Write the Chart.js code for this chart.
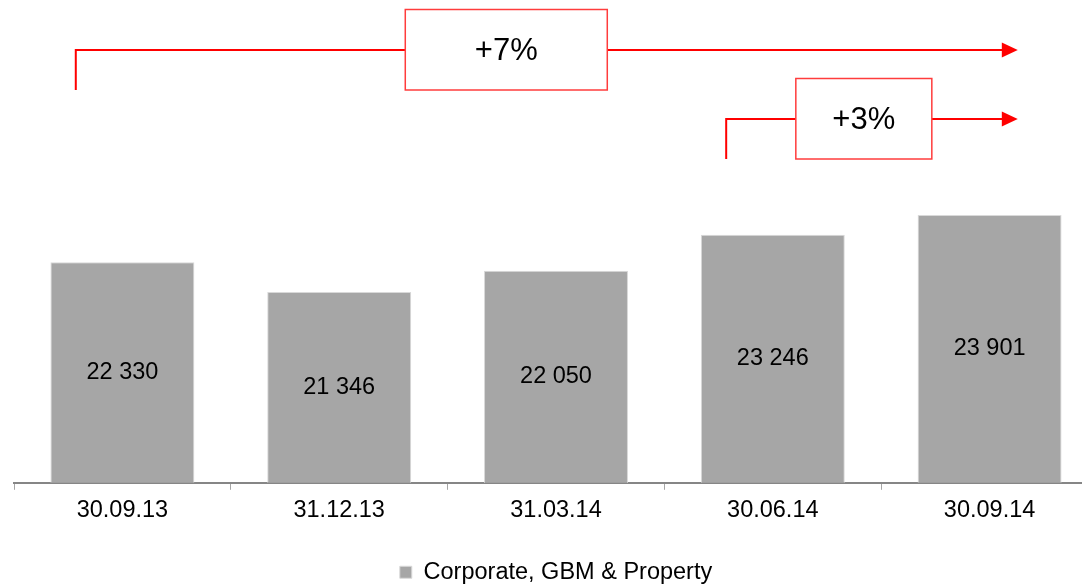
<!DOCTYPE html>
<html>
<head>
<meta charset="utf-8">
<script src="https://cdn.jsdelivr.net/npm/chart.js@4.4.1/dist/chart.umd.min.js"></script>
<style>
  html, body { margin: 0; padding: 0; background: #fff; overflow: hidden; }
  #wrap { width: 1120px; height: 594px; }
</style>
</head>
<body>
<div id="wrap"><canvas id="balances" width="1120" height="594"></canvas></div>
<script>
const periods = ['30.09.13', '31.12.13', '31.03.14', '30.06.14', '30.09.14'];
const balances = [22330, 21346, 22050, 23246, 23901];
const seriesName = 'Corporate, GBM & Property';

// growth brackets drawn above the bars (index of start and end period)
const growthFrom = [0, 3];
const growthTo = [4, 4];

// where each bracket row sits and how wide its box is
const bracketRows = [
  { lineY: 50, boxW: 202, boxAt: 0.457 },
  { lineY: 119, boxW: 136, boxAt: 0.472 }
];

const fontFamily = '"Liberation Sans", Arial, sans-serif';
Chart.defaults.font.family = fontFamily;

function spaced(n) {
  return String(n).replace(/\B(?=(\d{3})+(?!\d))/g, ' ');
}

// value written in the middle of every bar (bars start at the axis minimum)
const valueLabels = {
  id: 'valueLabels',
  afterDatasetsDraw(chart) {
    const ctx = chart.ctx;
    const ys = chart.scales.y;
    const floor = ys.getPixelForValue(ys.min);
    const meta = chart.getDatasetMeta(0);
    ctx.save();
    ctx.fillStyle = '#000';
    ctx.font = '23.5px ' + fontFamily;
    ctx.textAlign = 'center';
    ctx.textBaseline = 'middle';
    meta.data.forEach((bar, i) => {
      ctx.fillText(spaced(balances[i]), bar.x, (bar.y + floor) / 2);
    });
    ctx.restore();
  }
};

// red arrows with the growth % between two periods
const brackets = {
  id: 'brackets',
  afterDraw(chart) {
    const ctx = chart.ctx;
    const xs = chart.scales.x;
    const step = xs.width / periods.length;
    growthFrom.forEach((from, i) => {
      const to = growthTo[i];
      const row = bracketRows[i];
      const pct = Math.round((balances[to] / balances[from] - 1) * 100);
      const text = (pct >= 0 ? '+' : '') + pct + '%';
      const x0 = xs.getPixelForValue(from) - step * 0.215;
      const x1 = xs.getPixelForValue(to) + step * 0.13;
      const y = row.lineY;
      const bx = x0 + (x1 - x0) * row.boxAt - row.boxW / 2;

      ctx.save();
      ctx.strokeStyle = '#ff0000';
      ctx.lineWidth = 2;
      ctx.beginPath();
      ctx.moveTo(x0, y + 40);
      ctx.lineTo(x0, y);
      ctx.lineTo(bx, y);
      ctx.moveTo(bx + row.boxW, y);
      ctx.lineTo(x1 - 12, y);
      ctx.stroke();

      ctx.fillStyle = '#ff0000';
      ctx.beginPath();
      ctx.moveTo(x1, y);
      ctx.lineTo(x1 - 16, y - 7.5);
      ctx.lineTo(x1 - 16, y + 7.5);
      ctx.closePath();
      ctx.fill();

      ctx.fillStyle = '#fff';
      ctx.fillRect(bx, y - 40.5, row.boxW, 80.5);
      ctx.lineWidth = 1.5;
      ctx.strokeStyle = '#ff3c3c';
      ctx.strokeRect(bx, y - 40.5, row.boxW, 80.5);

      ctx.fillStyle = '#000';
      ctx.font = '31px ' + fontFamily;
      ctx.textAlign = 'center';
      ctx.textBaseline = 'middle';
      ctx.fillText(text, bx + row.boxW / 2, y + 1);
      ctx.restore();
    });
  }
};

new Chart(document.getElementById('balances'), {
  type: 'bar',
  data: {
    labels: periods,
    datasets: [{
      label: seriesName,
      data: balances,
      backgroundColor: '#a6a6a6',
      borderColor: '#d9d9d9',
      borderWidth: 1,
      categoryPercentage: 1,
      barPercentage: 0.664
    }]
  },
  options: {
    responsive: false,
    animation: false,
    devicePixelRatio: 1,
    layout: { padding: { left: 14, right: 22, top: 182, bottom: 0 } },
    scales: {
      x: {
        grid: { drawOnChartArea: false, drawTicks: true, tickLength: 7, color: '#a6a6a6', lineWidth: 1 },
        border: { color: '#868686', width: 2 },
        ticks: { color: '#000', padding: 7, font: { size: 23.5 } }
      },
      y: { display: false, min: 15000, max: 25000 }
    },
    plugins: {
      legend: {
        position: 'bottom',
        labels: { boxWidth: 12, boxHeight: 12, padding: 28.5, color: '#000', font: { size: 23.5 } }
      },
      tooltip: { enabled: false }
    }
  },
  plugins: [valueLabels, brackets]
});
</script>
</body>
</html>
